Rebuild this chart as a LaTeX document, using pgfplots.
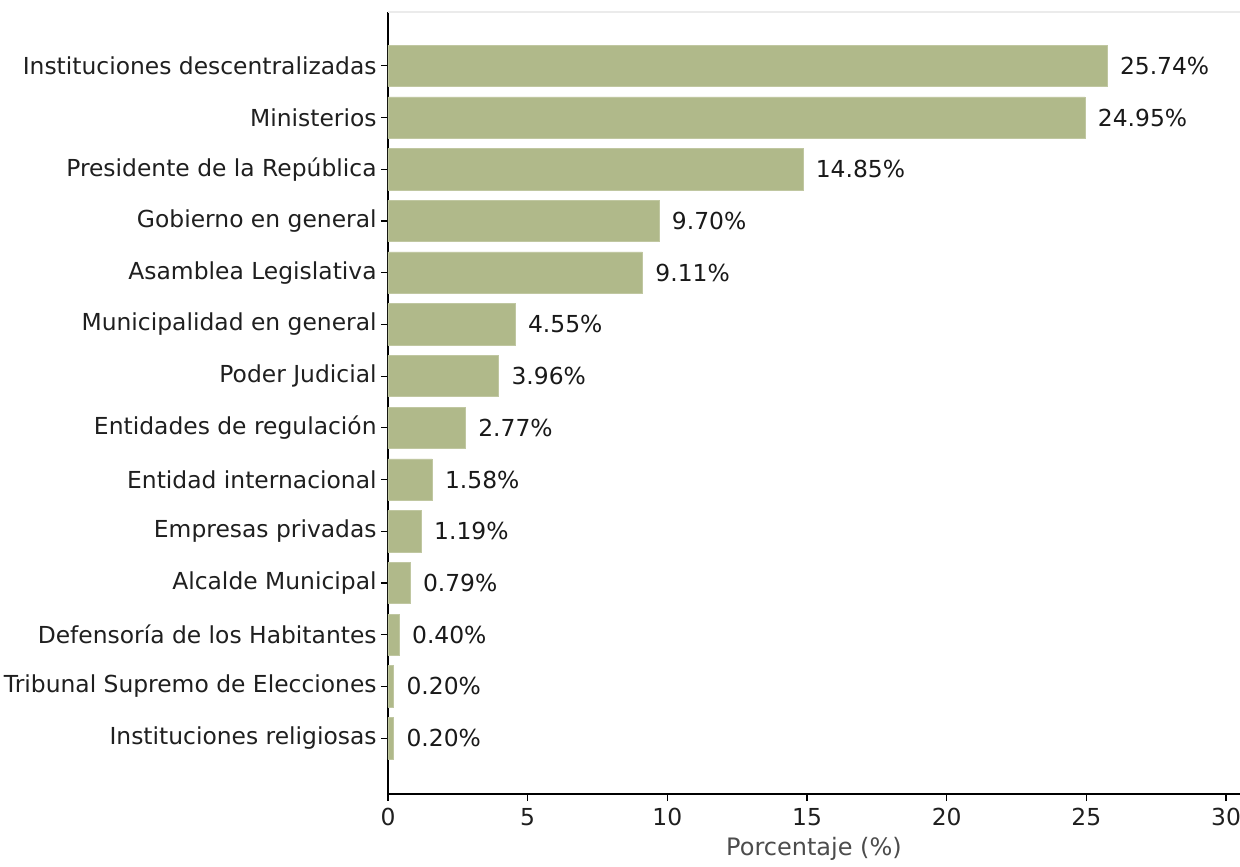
\documentclass[border=0pt]{standalone}
\usepackage{pgfplots}
\pgfplotsset{compat=1.18}
\usepackage{fontspec}
\setmainfont{DejaVu Sans}
\definecolor{barcol}{RGB}{176,185,138}

\pgfplotstableread{
y val
13 25.74
12 24.95
11 14.85
10 9.70
9  9.11
8  4.55
7  3.96
6  2.77
5  1.58
4  1.19
3  0.79
2  0.40
1  0.20
0  0.20
}\datatable

\begin{document}
\begin{tikzpicture}
% fixed page: axis box is (0,0)--(426pt,391pt)
\path[use as bounding box] (-194pt,-36pt) rectangle (426pt,397pt);
\begin{axis}[
    name=ax,
    at={(0,0)}, anchor=south west,
    scale only axis,
    width=426pt, height=391pt,
    xbar, bar width=0.8,
    xmin=0, xmax=30.5,
    ymin=-1.08, ymax=14.04,
    xtick={0,5,10,15,20,25,30},
    ytick={0,...,13},
    yticklabels={Instituciones religiosas, Tribunal Supremo de Elecciones,
      Defensoría de los Habitantes, Alcalde Municipal, Empresas privadas,
      Entidad internacional, Entidades de regulación, Poder Judicial,
      Municipalidad en general, Asamblea Legislativa, Gobierno en general,
      Presidente de la República, Ministerios, Instituciones descentralizadas},
    axis x line*=bottom, axis y line*=left,
    axis line style={black, line width=0.8pt},
    tick align=outside, major tick length=3.5pt,
    tick style={black, line width=0.6pt},
    tick label style={font=\fontsize{11.7}{14}\selectfont, text=black!88},
    yticklabel style={inner sep=2pt},
    /pgf/number format/assume math mode=true,
    xlabel={Porcentaje (\%)},
    xlabel style={font=\fontsize{12}{14}\selectfont, text=black!70, yshift=1pt},
    nodes near coords={\pgfmathprintnumber[fixed,fixed zerofill,precision=2,assume math mode=true]{\pgfplotspointmeta}\%},
    nodes near coords style={anchor=west, xshift=3pt, font=\fontsize{11.7}{14}\selectfont, text=black!90},
    point meta=x,
]
\addplot[fill=barcol, draw=barcol!80!white, line width=0.3pt] table[x=val, y=y] {\datatable};
\end{axis}
\draw[black!8, line width=1pt] (ax.north west) -- (ax.north east);
\end{tikzpicture}
\end{document}
